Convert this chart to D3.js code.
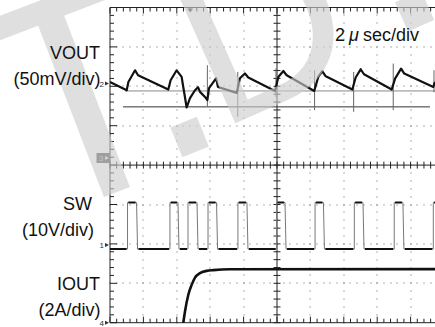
<!DOCTYPE html>
<html>
<head>
<meta charset="utf-8">
<script src="https://cdn.jsdelivr.net/npm/d3@7"></script>
<style>
  html, body { margin: 0; padding: 0; background: #fff; }
  svg { display: block; font-family: "Liberation Sans", Arial, sans-serif; }
</style>
</head>
<body>
<svg id="chart"></svg>
<script>
// time base: 2 us/div, 10 divs across
const voutT = [0, 1.00, 1.10, 1.50, 1.68, 3.49, 3.63, 3.99, 4.29, 4.37, 4.59, 4.79, 5.09, 5.27, 5.39,
  5.69, 5.83, 5.93, 6.35, 6.47, 7.59, 7.78, 8.08, 8.28, 9.88, 10.08, 10.38, 10.58, 12.23, 12.47,
  12.71, 12.92, 14.51, 14.71, 15.01, 15.21, 16.87, 17.07, 17.43, 17.62, 19.36, 19.46]
const voutMv = [2.0, -8.5, 2.0, 16.8, 10.5, -7.6, 4.2, 16.8, 8.4, -2.2, -30.4, -18.6, -8.5, -4.7, -10.6,
  -17.0, -21.1, -5.9, 6.7, -4.3, -11.9, 6.7, 12.7, 7.6, -9.4, 8.4, 15.9, 10.5, -9.4, 8.4,
  15.6, 9.2, -7.6, 7.6, 18.1, 11.8, -7.6, 6.3, 19.0, 12.7, -4.3, 2.0]

const voutSpikeT = [5.83, 7.65, 9.94, 12.25, 14.59, 16.96, 19.40]
const voutSpikeHi = [23.2, 14.7, 19.4, 16.8, 14.7, 25.3, 16.8]
const voutSpikeLo = [-29.6, -42.3, -17.3, -33.8, -35.9, -33.8, -11.0]

const voutCursorMv = [-9.4, -29.6]
const voutCursorFrom = [0.9, 0.78]
const voutCursorTo = [20, 19.16]

const swRiseT = [1.05, 3.59, 4.67, 5.87, 7.66, 9.98, 12.28, 14.63, 17.02, 19.36]
const swFallT = [1.59, 4.07, 5.21, 6.38, 8.20, 10.48, 12.78, 15.15, 17.54]
const swHighV = 10.8
const swLowV = -1.0

const ioutT = [4.39, 4.49, 4.69, 4.89, 5.09, 5.39, 5.79, 6.19, 7.19, 20]
const ioutA = [0, 0.57, 1.42, 1.92, 2.29, 2.52, 2.63, 2.67, 2.71, 2.72]

const channelNames = ['VOUT', 'SW', 'IOUT']
const channelScales = ['(50mV/div)', '(10V/div)', '(2A/div)']
const timeLabel = ['2', '\u03bc', 'sec/div']

const width = 435
const height = 327
const margin = { left: 110, top: 7.5 }
const divW = 33.4
const divH = 39.4

const svg = d3.select('#chart')
  .attr('width', width)
  .attr('height', height)

const x = d3.scaleLinear()
  .domain([0, 20])
  .range([margin.left, margin.left + 10 * divW])

const yDiv = d3.scaleLinear()
  .domain([-4, 4])
  .range([margin.top + 8 * divH, margin.top])

// channel position (divs) and units per div
const chY = (offset, perDiv) => v => yDiv(offset + v / perDiv)
const yVout = chY(2.07, 50)
const ySw = chY(-2.03, 10)
const yIout = chY(-4, 2)

const pTop = yDiv(4), pBottom = yDiv(-4), pLeft = x(0), pRight = x(20)

// dotted grid
const grid = svg.append('g').attr('fill', '#666')
const dots = []
d3.range(1, 10).filter(k => k !== 5).forEach(k => {
  d3.range(0, 41).forEach(m => dots.push([x(k * 2), yDiv(-4 + m * 0.2)]))
})
d3.range(-3, 4).filter(j => j !== 0).forEach(j => {
  d3.range(0, 51).forEach(m => dots.push([x(m * 0.4), yDiv(j)]))
})
grid.selectAll('rect')
  .data(dots)
  .join('rect')
  .attr('x', d => Math.round(d[0]) - 0.5)
  .attr('y', d => Math.round(d[1]) - 0.5)
  .attr('width', 1)
  .attr('height', 1)

// frame and centre cross with ticks
const axes = svg.append('g').attr('stroke', '#222').attr('stroke-width', 1).attr('fill', 'none')
axes.append('path').attr('d', `M${pRight},${pTop}H${pLeft}V${pBottom}H${pRight}`)
axes.append('line').attr('x1', x(10)).attr('x2', x(10)).attr('y1', pTop).attr('y2', pBottom)
axes.append('line').attr('x1', pLeft).attr('x2', pRight).attr('y1', yDiv(0)).attr('y2', yDiv(0))

const tickPath = []
d3.range(0, 51).forEach(m => {
  const tx = x(m * 0.4)
  const len = m % 5 === 0 ? 6 : 4
  tickPath.push(`M${tx},${pTop}v${len}`)
  tickPath.push(`M${tx},${pBottom}v${-len}`)
  tickPath.push(`M${tx},${yDiv(0) - 3.5}v7`)
})
d3.range(0, 41).forEach(m => {
  const ty = yDiv(-4 + m * 0.2)
  const len = m % 5 === 0 ? 7 : 4
  tickPath.push(`M${pLeft},${ty}h${len}`)
  tickPath.push(`M${x(10) - 3.5},${ty}h7`)
})
axes.append('path').attr('d', tickPath.join(''))

// trigger marker
svg.append('path')
  .attr('d', `M${x(4.8) - 3},${pTop + 1}h6l-3,4z`)
  .attr('fill', '#444')

const clip = svg.append('clipPath').attr('id', 'plotClip')
clip.append('rect').attr('x', pLeft).attr('y', pTop).attr('width', pRight - pLeft).attr('height', pBottom - pTop + 1)
const traces = svg.append('g').attr('clip-path', 'url(#plotClip)')

// VOUT cursors
traces.selectAll('line.cursor')
  .data(voutCursorMv)
  .join('line')
  .attr('class', 'cursor')
  .attr('x1', (d, i) => x(voutCursorFrom[i]))
  .attr('x2', (d, i) => x(voutCursorTo[i]))
  .attr('y1', d => yVout(d))
  .attr('y2', d => yVout(d))
  .attr('stroke', (d, i) => i === 0 ? '#888' : '#333')
  .attr('stroke-width', 1)

// VOUT spikes
traces.selectAll('line.spike')
  .data(voutSpikeT)
  .join('line')
  .attr('class', 'spike')
  .attr('x1', d => x(d))
  .attr('x2', d => x(d))
  .attr('y1', (d, i) => yVout(voutSpikeHi[i]))
  .attr('y2', (d, i) => yVout(voutSpikeLo[i]))
  .attr('stroke', '#666')
  .attr('stroke-width', 1)

const voutLine = d3.line()
  .x(d => x(d[0]))
  .y(d => yVout(d[1]))
traces.append('path')
  .datum(voutT.map((t, i) => [t, voutMv[i]]))
  .attr('fill', 'none')
  .attr('stroke', '#111')
  .attr('stroke-width', 2.2)
  .attr('stroke-linejoin', 'round')
  .attr('d', voutLine)

// SW square wave
const swPts = [[0, swLowV]]
swRiseT.forEach((r, i) => {
  swPts.push([r, swLowV], [r, swHighV])
  if (swFallT[i] !== undefined) swPts.push([swFallT[i], swHighV], [swFallT[i] + 0.06, swLowV])
  else swPts.push([20, swHighV])
})
const swLine = d3.line().x(d => x(d[0])).y(d => ySw(d[1]))
traces.append('path')
  .datum(swPts)
  .attr('fill', 'none')
  .attr('stroke', '#777')
  .attr('stroke-width', 1)
  .attr('d', swLine)

// darker plateaus
const plateaus = [[0, swRiseT[0], swLowV]]
swRiseT.forEach((r, i) => {
  const f = swFallT[i] !== undefined ? swFallT[i] : 20
  plateaus.push([r + 0.05, f, swHighV])
  if (swFallT[i] !== undefined) plateaus.push([f + 0.12, swRiseT[i + 1] || 20, swLowV])
})
traces.selectAll('line.plateau')
  .data(plateaus)
  .join('line')
  .attr('class', 'plateau')
  .attr('x1', d => x(d[0]))
  .attr('x2', d => x(d[1]) - 1)
  .attr('y1', d => ySw(d[2]))
  .attr('y2', d => ySw(d[2]))
  .attr('stroke', '#111')
  .attr('stroke-width', 2)

// IOUT
const ioutLine = d3.line()
  .x(d => x(d[0]))
  .y(d => yIout(d[1]))
  .curve(d3.curveMonotoneX)
traces.append('path')
  .datum(ioutT.map((t, i) => [t, ioutA[i]]))
  .attr('fill', 'none')
  .attr('stroke', '#111')
  .attr('stroke-width', 2.6)
  .attr('d', ioutLine)

// channel ground markers
const markers = svg.append('g').attr('font-size', 8).attr('fill', '#333')
;[['2', yVout(0)], ['1', ySw(0)], ['4', yIout(0)]].forEach(([t, my]) => {
  markers.append('text').attr('x', 104).attr('y', my + 3).attr('text-anchor', 'end').text(t)
  markers.append('path').attr('d', `M105,${my - 2}l4,2l-4,2z`)
})
const m3 = yDiv(0.18)
markers.append('rect').attr('x', 96.5).attr('y', m3 - 5).attr('width', 13.5).attr('height', 10).attr('fill', '#555')
markers.append('text').attr('x', 101).attr('y', m3 + 3).attr('text-anchor', 'middle').attr('fill', '#bbb').text('3')
markers.append('path').attr('d', `M105,${m3 - 2}l4,2l-4,2z`).attr('fill', '#ddd')

// watermark
const wm = svg.append('g')
  .attr('fill', 'rgb(205,205,205)')
  .attr('opacity', 0.62)
const wmGlyphs = [
  { g: 'T', size: 300, cx: 78.5, cy: 91.7, rot: -21 },
  { g: '.', size: 300, cx: 190, cy: 138, rot: -22 },
  { g: 'D', size: 225, cx: 260, cy: 24, rot: -24 },
  { g: '.', size: 300, cx: 415, cy: 12, rot: -24 }
]
wmGlyphs.forEach(d => {
  wm.append('text')
    .attr('transform', `translate(${d.cx},${d.cy}) rotate(${d.rot})`)
    .attr('text-anchor', 'middle')
    .attr('font-size', d.size)
    .attr('y', d.g === '.' ? 0.05 * d.size : 0.358 * d.size)
    .text(d.g)
})

// labels
const labels = svg.append('g').attr('font-size', 18).attr('fill', '#111').attr('text-anchor', 'end')
const labelPos = [[100, 59], [92, 210], [100, 290]]
const scalePos = [[100.5, 85], [94, 236], [100.5, 316]]
channelNames.forEach((n, i) => {
  labels.append('text').attr('x', labelPos[i][0]).attr('y', labelPos[i][1]).text(n)
  labels.append('text').attr('x', scalePos[i][0]).attr('y', scalePos[i][1]).text(channelScales[i])
})
const tl = svg.append('g').attr('font-size', 18).attr('fill', '#111')
tl.append('text').attr('x', 335).attr('y', 40.5).text(timeLabel[0])
tl.append('text').attr('x', 349).attr('y', 40.5).attr('font-style', 'italic').text(timeLabel[1])
tl.append('text').attr('x', 363).attr('y', 40.5).text(timeLabel[2])
</script>
</body>
</html>
